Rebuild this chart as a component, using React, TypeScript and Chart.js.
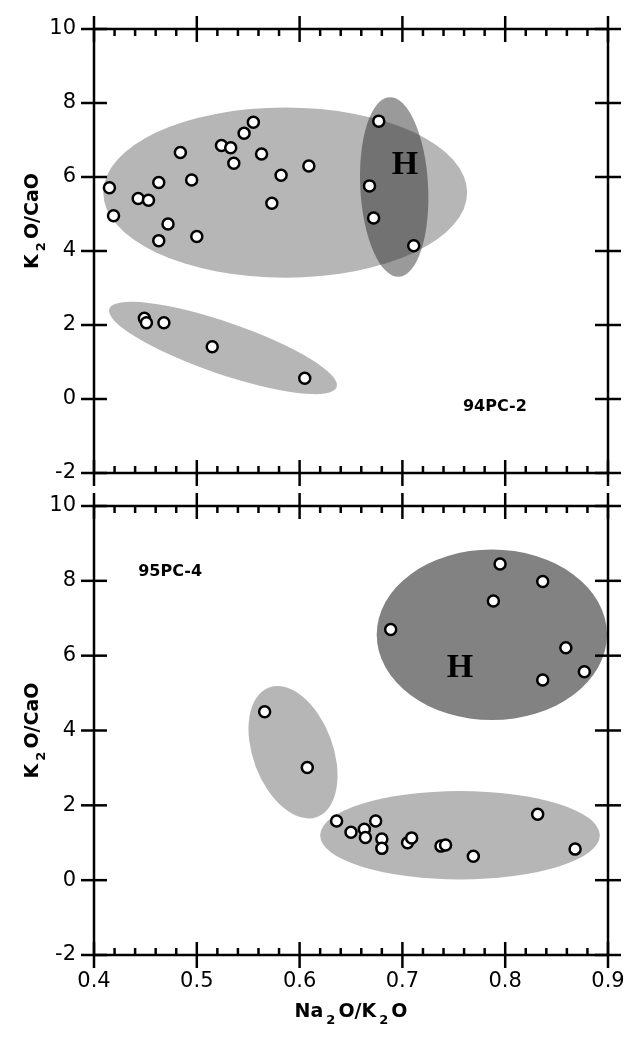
import React, { useEffect, useRef } from 'react';
import { Chart, registerables } from 'chart.js';

Chart.register(...registerables);

// ---- axes ----
const xTickValues = [0.4, 0.5, 0.6, 0.7, 0.8, 0.9];
const xTickLabels = ['0.4', '0.5', '0.6', '0.7', '0.8', '0.9'];
const yTickValues = [-2, 0, 2, 4, 6, 8, 10];
const yTickLabels = ['-2', '0', '2', '4', '6', '8', '10'];

// ---- sample 94PC-2 (upper panel) ----
const pc94X = [0.415, 0.419, 0.443, 0.453, 0.463, 0.472, 0.463, 0.484, 0.495, 0.500, 0.524, 0.533, 0.536, 0.546, 0.555, 0.563, 0.582, 0.573, 0.609, 0.677, 0.668, 0.672, 0.711, 0.449, 0.451, 0.468, 0.515, 0.605];
const pc94Y = [5.71, 4.95, 5.42, 5.37, 5.85, 4.73, 4.28, 6.66, 5.92, 4.39, 6.85, 6.79, 6.37, 7.18, 7.48, 6.62, 6.05, 5.29, 6.30, 7.51, 5.76, 4.89, 4.14, 2.18, 2.06, 2.06, 1.41, 0.56];

// ---- sample 95PC-4 (lower panel) ----
const pc95X = [0.566, 0.6075, 0.636, 0.650, 0.663, 0.664, 0.674, 0.680, 0.680, 0.705, 0.709, 0.7375, 0.742, 0.769, 0.8316, 0.868, 0.795, 0.8365, 0.7885, 0.6886, 0.859, 0.877, 0.8365];
const pc95Y = [4.50, 3.01, 1.58, 1.28, 1.36, 1.14, 1.58, 1.10, 0.85, 1.00, 1.13, 0.91, 0.94, 0.64, 1.76, 0.83, 8.45, 7.98, 7.46, 6.70, 6.21, 5.57, 5.35];

// ---- shaded fields: centre (data), half-axes (x units / y units), rotation (deg) ----
const LIGHT = '#b6b6b6';
const DARK = '#828282';
const DARK_OVER = 'rgba(30,30,30,0.45)';

const pc94Fields = [
  { cx: 0.586, cy: 5.58, rx: 0.177, ry: 2.3, rot: 0, fill: LIGHT },
  { cx: 0.5255, cy: 1.38, rx: 0.117, ry: 0.70, rot: 19, fill: LIGHT },
  { cx: 0.692, cy: 5.73, rx: 0.033, ry: 2.43, rot: -3, fill: DARK_OVER },
];
const pc95Fields = [
  { cx: 0.5936, cy: 3.42, rx: 0.0389, ry: 1.845, rot: -20.4, fill: LIGHT },
  { cx: 0.756, cy: 1.2, rx: 0.136, ry: 1.18, rot: 0, fill: LIGHT },
  { cx: 0.787, cy: 6.56, rx: 0.112, ry: 2.28, rot: 0, fill: DARK },
];

const SERIF_H = 'bold 34px "Liberation Serif"';
const LABEL_FONT = 'bold 16px "DejaVu Sans"';
const pc94Labels = [
  { text: 'H', x: 0.7025, y: 6.32, font: SERIF_H },
  { text: '94PC-2', x: 0.79, y: -0.2, font: LABEL_FONT },
];
const pc95Labels = [
  { text: 'H', x: 0.756, y: 5.67, font: SERIF_H },
  { text: '95PC-4', x: 0.474, y: 8.24, font: LABEL_FONT },
];

const yTitleParts: [string, boolean][] = [['K', false], ['2', true], ['O/CaO', false]];
const xTitleParts: [string, boolean][] = [['Na', false], ['2', true], ['O/K', false], ['2', true], ['O', false]];

const FAMILY = '"DejaVu Sans"';

function drawParts(ctx: CanvasRenderingContext2D, parts: [string, boolean][], cx: number, cy: number, rotate: boolean) {
  const main = `bold 19px ${FAMILY}`;
  const sub = `bold 13px ${FAMILY}`;
  const gap = 3;
  const widths = parts.map(([t, s]) => {
    ctx.font = s ? sub : main;
    return ctx.measureText(t).width + (s ? 2 * gap : 0);
  });
  const total = widths.reduce((a, b) => a + b, 0);
  ctx.save();
  ctx.translate(cx, cy);
  if (rotate) ctx.rotate(-Math.PI / 2);
  ctx.fillStyle = '#000';
  ctx.textBaseline = 'middle';
  ctx.textAlign = 'left';
  let x = -total / 2;
  parts.forEach(([t, s], i) => {
    ctx.font = s ? sub : main;
    ctx.fillText(t, x + (s ? gap : 0), s ? 9 : 0);
    x += widths[i];
  });
  ctx.restore();
}

function makeDecor(fields: any[], labels: any[], opts: { xTitle: boolean; yTitleShift: number }) {
  return {
    id: 'decor',
    beforeDatasetsDraw(chart: any) {
      const { ctx, scales } = chart;
      const xs = scales.x, ys = scales.y;
      ctx.save();
      fields.forEach((r) => {
        const px = xs.getPixelForValue(r.cx);
        const py = ys.getPixelForValue(r.cy);
        const rx = Math.abs(xs.getPixelForValue(r.cx + r.rx) - px);
        const ry = Math.abs(ys.getPixelForValue(r.cy + r.ry) - py);
        ctx.beginPath();
        ctx.ellipse(px, py, rx, ry, (r.rot * Math.PI) / 180, 0, Math.PI * 2);
        ctx.fillStyle = r.fill;
        ctx.fill();
      });
      labels.forEach((l) => {
        ctx.font = l.font;
        ctx.fillStyle = '#000';
        ctx.textAlign = 'center';
        ctx.textBaseline = 'middle';
        ctx.fillText(l.text, xs.getPixelForValue(l.x), ys.getPixelForValue(l.y));
      });
      ctx.restore();
    },
    afterDatasetsDraw(chart: any) {
      const { ctx, chartArea, scales } = chart;
      const xs = scales.x, ys = scales.y;
      const L = chartArea.left, R = chartArea.right, T = chartArea.top, B = chartArea.bottom;
      ctx.save();
      ctx.strokeStyle = '#000';
      ctx.lineWidth = 2.5;
      ctx.lineCap = 'butt';
      const line = (x1: number, y1: number, x2: number, y2: number) => {
        ctx.beginPath();
        ctx.moveTo(x1, y1);
        ctx.lineTo(x2, y2);
        ctx.stroke();
      };
      line(L, T, R, T);
      line(L, B, R, B);
      line(L, T, L, B);
      line(R, T, R, B);
      const MJ = 13, MN = 7;
      xTickValues.forEach((v, i) => {
        const px = xs.getPixelForValue(v);
        line(px, T - MJ, px, T + MJ);
        line(px, B - MJ, px, B + MJ);
        if (i < xTickValues.length - 1) {
          const step = (xTickValues[i + 1] - v) / 5;
          for (let k = 1; k < 5; k++) {
            const mx = xs.getPixelForValue(v + step * k);
            line(mx, T, mx, T + MN);
            line(mx, B, mx, B - MN);
          }
        }
      });
      yTickValues.forEach((v) => {
        const py = ys.getPixelForValue(v);
        line(L - MJ, py, L + MJ, py);
        line(R - MJ, py, R + MJ, py);
      });
      ctx.restore();
      drawParts(ctx, yTitleParts, 33, (T + B) / 2 + opts.yTitleShift, true);
      if (opts.xTitle) drawParts(ctx, xTitleParts, (L + R) / 2, B + 57, false);
    },
  };
}

const zeroPad = (scale: any) => {
  scale.paddingTop = 0;
  scale.paddingBottom = 0;
  scale.paddingLeft = 0;
  scale.paddingRight = 0;
};

function makeChart(canvas: HTMLCanvasElement, xs: number[], ys: number[], fields: any[], labels: any[], showX: boolean, padTop: number, padBottom: number, yTitleShift: number) {
  return new Chart(canvas, {
    type: 'scatter',
    data: {
      datasets: [
        {
          data: xs.map((x, i) => ({ x, y: ys[i] })),
          pointRadius: 5.5,
          pointHoverRadius: 5.5,
          pointBorderWidth: 2.5,
          pointBackgroundColor: '#ffffff',
          pointBorderColor: '#000000',
          showLine: false,
        },
      ],
    },
    options: {
      responsive: false,
      animation: false,
      devicePixelRatio: 1,
      layout: { padding: { top: padTop, bottom: padBottom, left: 0, right: 20 } },
      plugins: { legend: { display: false }, tooltip: { enabled: false } },
      events: [],
      scales: {
        x: {
          type: 'linear',
          min: 0.4,
          max: 0.9,
          display: showX,
          afterBuildTicks: (scale: any) => {
            scale.ticks = xTickValues.map((v) => ({ value: v }));
          },
          afterFit: (scale: any) => {
            if (showX) scale.height = 83;
            zeroPad(scale);
          },
          grid: { display: false, drawTicks: false },
          border: { display: false },
          ticks: {
            autoSkip: false,
            maxRotation: 0,
            padding: 14,
            color: '#000',
            font: { family: FAMILY, size: 21 },
            callback: (_v: any, i: number) => xTickLabels[i],
          },
        },
        y: {
          type: 'linear',
          min: -2,
          max: 10,
          afterBuildTicks: (scale: any) => {
            scale.ticks = yTickValues.map((v) => ({ value: v }));
          },
          afterFit: (scale: any) => {
            scale.width = 94;
            zeroPad(scale);
          },
          grid: { display: false, drawTicks: false },
          border: { display: false },
          ticks: {
            padding: 18,
            color: '#000',
            font: { family: FAMILY, size: 21 },
            callback: (_v: any, i: number) => yTickLabels[i],
          },
        },
      },
    },
    plugins: [makeDecor(fields, labels, { xTitle: showX, yTitleShift })],
  } as any);
}

export default function App() {
  const topRef = useRef<HTMLCanvasElement>(null);
  const botRef = useRef<HTMLCanvasElement>(null);

  useEffect(() => {
    const c1 = makeChart(topRef.current!, pc94X, pc94Y, pc94Fields, pc94Labels, false, 29, 17, -30);
    const c2 = makeChart(botRef.current!, pc95X, pc95Y, pc95Fields, pc95Labels, true, 16, 0, 0);
    return () => {
      c1.destroy();
      c2.destroy();
    };
  }, []);

  return (
    <div style={{ position: 'absolute', left: 0, top: 0, width: 628, height: 1038, background: '#fff', overflow: 'hidden' }}>
      <canvas ref={topRef} width={628} height={490} style={{ position: 'absolute', left: 0, top: 0, width: 628, height: 490 }} />
      <canvas ref={botRef} width={628} height={548} style={{ position: 'absolute', left: 0, top: 490, width: 628, height: 548 }} />
    </div>
  );
}
